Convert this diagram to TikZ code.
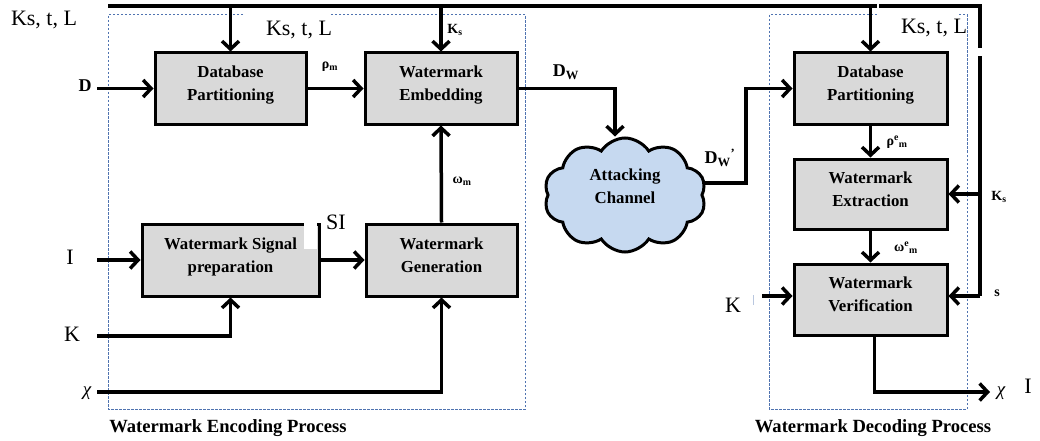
\documentclass[tikz,border=0pt]{standalone}
\usepackage{fontspec}
\setmainfont{Liberation Serif}
\usetikzlibrary{arrows.meta,shapes.symbols,calc}
\definecolor{boxgray}{HTML}{D9D9D9}
\definecolor{cloudblue}{HTML}{C6D9F0}
\definecolor{dashblue}{HTML}{4F73B0}
\begin{document}
\begin{tikzpicture}[x=1pt,y=-1pt,
  box/.style={draw, line width=3pt, fill=boxgray, align=center, inner sep=0pt,
    text depth=10pt, font=\fontsize{16.8}{23}\selectfont\bfseries},
  arr/.style={line width=3.5pt, -{Straight Barb[length=8pt,width=17pt]}},
  plain/.style={line width=3.5pt},
  frame/.style={draw=dashblue, line width=1pt, dash pattern=on 2.5pt off 1.5pt},
  big/.style={font=\fontsize{22}{24}\selectfont, inner sep=1pt},
  sm/.style={font=\fontsize{14}{16}\selectfont\bfseries, inner sep=1pt},
  title/.style={font=\fontsize{18.6}{20}\selectfont\bfseries, inner sep=0pt},
]
\useasboundingbox (0,0) rectangle (1040,441);

% dashed process frames
\draw[frame] (243,15) -- (108,15) -- (108,409) -- (525,409) -- (525,15) -- (331,15);
\draw[frame] (877,15) -- (769,15) -- (769,409) -- (967,409) -- (967,15) -- (957,15);

% boxes
\node[box, minimum width=151pt, minimum height=71pt] (dp1) at (230.5,88.5) {Database\\Partitioning};
\node[box, minimum width=152pt, minimum height=71pt] (emb) at (441,88.5) {Watermark\\Embedding};
\node[box, minimum width=177pt, minimum height=72pt] (sp) at (230.5,260) {Watermark Signal\\preparation};
\node[box, minimum width=151pt, minimum height=72pt] (gen) at (441.5,260) {Watermark\\Generation};
\node[box, minimum width=153pt, minimum height=71pt] (dp2) at (870.5,88.5) {Database\\Partitioning};
\node[box, minimum width=153pt, minimum height=70pt] (ext) at (870.5,194) {Watermark\\Extraction};
\node[box, minimum width=153pt, minimum height=71pt] (ver) at (870.5,299.5) {Watermark\\Verification};
\node[cloud, cloud puffs=10, cloud puff arc=115, aspect=1.4, draw, line width=3pt,
  fill=cloudblue, minimum width=162pt, minimum height=114pt, align=center, inner sep=0pt,
  text depth=17pt, font=\fontsize{16.8}{23}\selectfont\bfseries] (cloud) at (625,195) {Attacking\\Channel};

% white patch behind SI label
\fill[white] (304,221.5) rectangle (317,249);

% coordinates
\coordinate (busL) at (108,6);
\coordinate (busR) at (980,6);
\coordinate (busB) at (980,296);
\coordinate (inD) at (97,88.5);
\coordinate (inI) at (97,260);
\coordinate (inK) at (97,336);
\coordinate (inChi) at (97,392);
\coordinate (dwb) at (746,88.5);
\coordinate (inK2) at (762,296);
\coordinate (outX) at (990,392);

% top bus
\draw[plain, line join=miter] (busL) -- (busR) -- (busB);
\draw[arr] (dp1.north |- busL) -- (dp1.north);
\draw[arr] (emb.north |- busL) -- (emb.north);
\draw[arr] (dp2.north |- busL) -- (dp2.north);
\draw[arr] (busR |- ext.east) -- (ext.east);
\draw[arr] (busB) -- (busB -| ver.east);
\draw[white, line width=1.5pt] (878,0) -- (878,16);
\draw[white, line width=8pt] (974,52) -- (986,52);

% encoding connectors
\draw[arr] (inD) -- (dp1.west);
\draw[arr] (dp1.east) -- (emb.west);
\draw[arr] (inI) -- (sp.west);
\draw[arr] (inK) -| (sp.south);
\draw[arr] (inChi) -| (gen.south);
\draw[arr] (sp.east) -- (gen.west);
\draw[arr] (gen.north) -- (emb.south);
\draw[arr] (emb.east) -| ([xshift=-10pt]cloud.north);

% decoding connectors
\draw[arr, line join=miter] ($(cloud.east)+(0,-12)$) -| (dwb) -- (dp2.west);
\draw[arr] (dp2.south) -- (ext.north);
\draw[arr] (ext.south) -- (ver.north);
\draw[arr] (inK2) -- (inK2 -| ver.west);
\draw[arr] ([xshift=4pt]ver.south) |- (outX);
\draw[color=dashblue!40, line width=0.6pt] (753,295) -- (753,305);

% labels
\node[big] (lksa) at (44,20) {Ks, t, L};
\node[big] (lksb) at (299,30) {Ks, t, L};
\node[big] (lksc) at (934,28) {Ks, t, L};
\node[sm, font=\fontsize{18}{18}\selectfont\bfseries] (lD) at (85,86) {D};
\node[sm] (lrho) at (330,67) {ρ\textsubscript{m}};
\node[sm] (lks1) at (455,30) {K\textsubscript{s}};
\node[sm, font=\fontsize{18}{18}\selectfont\bfseries] (ldw) at (566,72) {D\textsubscript{W}};
\node[sm, font=\fontsize{18}{18}\selectfont\bfseries] (ldw2) at (720,158) {D\textsubscript{W}\textsuperscript{'}};
\node[sm] (lomega) at (462,181) {ω\textsubscript{m}};
\node[big] (lSI) at (336,222) {SI};
\node[big] (lI) at (70,257) {I};
\node[big] (lK) at (72,334) {K};
\node[font=\fontsize{19}{20}\selectfont\itshape, inner sep=1pt] (lchi) at (87,393) {χ};
\node[sm] (lrhoe) at (897,142) {ρ\textsuperscript{e}\textsubscript{m}};
\node[sm] (lomegae) at (906,248) {ω\textsuperscript{e}\textsubscript{m}};
\node[sm] (lks2) at (999,197) {K\textsubscript{s}};
\node[sm] (ls) at (997,293) {s};
\node[big] (lK2) at (733,305) {K};
\node[font=\fontsize{19}{20}\selectfont\itshape, inner sep=1pt] (lchi2) at (1001,393) {χ};
\node[big] (lI2) at (1028,386) {I};
\node[title] (tenc) at (228,428) {Watermark Encoding Process};
\node[title] (tdec) at (873,428) {Watermark Decoding Process};
\end{tikzpicture}
\end{document}
